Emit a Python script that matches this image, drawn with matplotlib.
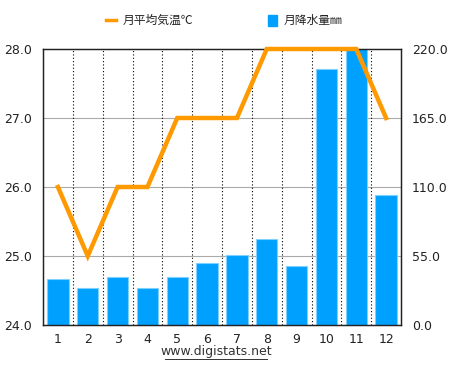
import matplotlib
matplotlib.use("Agg")
import matplotlib.pyplot as plt
import numpy as np

months = ["1", "2", "3", "4", "5", "6", "7", "8", "9", "10", "11", "12"]
temperature = [26.0, 25.0, 26.0, 26.0, 27.0, 27.0, 27.0, 28.0, 28.0, 28.0, 28.0, 27.0]
precipitation = [36.4, 29.2, 38.5, 29.8, 38.0, 49.2, 55.5, 68.6, 47.0, 204.0, 240.0, 103.4]
left_ticks = [24.0, 25.0, 26.0, 27.0, 28.0]
right_ticks = [0.0, 55.0, 110.0, 165.0, 220.0]

plt.rcParams['font.family'] = ['DejaVu Sans', 'Noto Sans CJK JP']

fig = plt.figure(figsize=(4.5, 3.72), dpi=100)
W, H = 450, 372
ax = fig.add_axes([43 / W, 1 - 325 / H, (401 - 43) / W, (325 - 49) / H])
ax2 = ax.twinx()

x = np.arange(len(months))
ax2.bar(x, precipitation, width=0.72, color="#00a0ff", edgecolor="#7fd0ff", linewidth=0.8, zorder=2)
ax2.set_ylim(0, 220)
ax2.set_yticks(right_ticks)
ax2.set_yticklabels([f"{v:.1f}" for v in right_ticks])

ax.set_zorder(ax2.get_zorder() + 1)
ax.patch.set_visible(False)
ax.plot(x, temperature, color="#ff9900", linewidth=3.2, solid_joinstyle="miter", clip_on=False, zorder=5)
ax.set_ylim(24, 28)
ax.set_xlim(-0.5, len(months) - 0.5)
ax.set_yticks(left_ticks)
ax.set_yticklabels([f"{v:.1f}" for v in left_ticks])
ax.set_xticks(x)
ax.set_xticklabels(months)

# grid: horizontal solid gray on background axes, vertical dotted at boundaries
for v in right_ticks[1:-1]:
    ax2.axhline(v, color="#aaaaaa", linewidth=0.8, zorder=1)
for b in np.arange(0.5, len(months) - 0.5, 1.0):
    ax2.axvline(b, color="black", linestyle=(0, (1, 2)), linewidth=0.8, zorder=1)

for a in (ax, ax2):
    a.tick_params(length=0, labelsize=9, colors="#222222")
    for s in a.spines.values():
        s.set_color("#222222")
        s.set_linewidth(0.9)
ax.tick_params(axis="x", pad=6)
ax.tick_params(axis="y", pad=8)
ax2.tick_params(axis="y", pad=8)

# legend
fig.lines.append(plt.Line2D([106 / W, 116 / W], [1 - 20 / H, 1 - 20 / H], color="#ff9900", linewidth=2.5,
                            transform=fig.transFigure))
fig.text(123 / W, 1 - 20 / H, "月平均気温℃", fontsize=8.5, va="center", ha="left",
         family=['Noto Sans CJK JP', 'DejaVu Sans'], color="#222222")
fig.patches.append(plt.Rectangle((268 / W, 1 - 26 / H), 9 / W, 11 / H, color="#00a0ff",
                                 transform=fig.transFigure))
fig.text(284 / W, 1 - 20 / H, "月降水量㎜", fontsize=8.5, va="center", ha="left",
         family=['Noto Sans CJK JP', 'DejaVu Sans'], color="#222222")

t = fig.text(216 / W, 1 - 352 / H, "www.digistats.net", fontsize=9, ha="center", va="center", color="#333333")
fig.lines.append(plt.Line2D([165 / W, 267 / W], [1 - 359 / H, 1 - 359 / H], color="#333333", linewidth=0.7,
                            transform=fig.transFigure))

fig.savefig("out.png", dpi=100)
